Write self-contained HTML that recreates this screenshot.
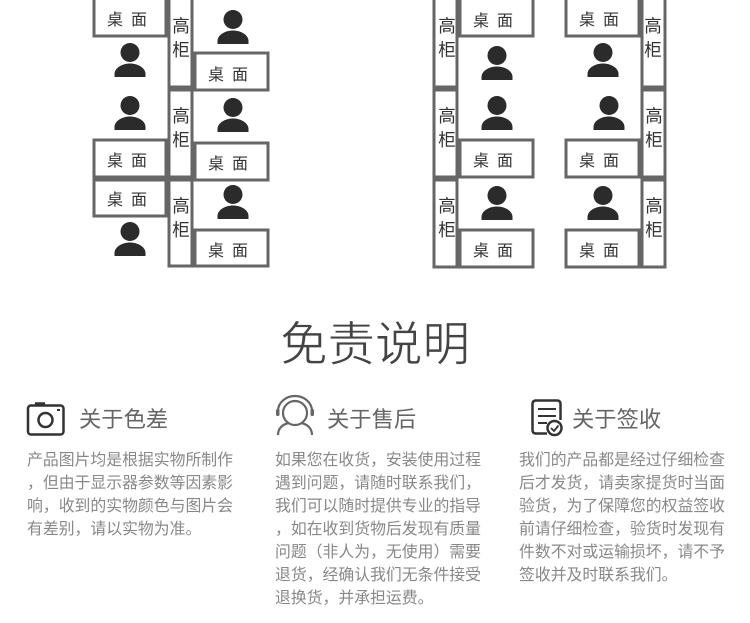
<!DOCTYPE html>
<html lang="zh">
<head>
<meta charset="utf-8">
<style>
html,body{margin:0;padding:0;background:#fff}
body{width:750px;height:623px;overflow:hidden}
svg{display:block}
text{font-family:"Liberation Sans","Noto Sans CJK SC",sans-serif}
.d{fill:#fff;stroke:#666;stroke-width:3}
.dt{font-size:16px;fill:#333;letter-spacing:1.8px}
.ct{font-size:17.500px;fill:#333;text-anchor:middle}
.h{font-size:22.300px;fill:#666}
.b{font-size:15.850px;fill:#888}
.ic{fill:none;stroke:#333;stroke-width:2.500}
.ig{fill:none;stroke:#666;stroke-width:2.200}
</style>
</head>
<body>
<svg width="750" height="623" viewBox="0 0 750 623" xmlns="http://www.w3.org/2000/svg">
<defs>
<g id="p"><circle cx="0" cy="9.500" r="9.500" fill="#2b2b2b"/><path d="M-15.500 34V31C-15.500 25-8 20.500 0 20.500S15.500 25 15.500 31V34Z" fill="#2b2b2b"/></g>
</defs>

<!-- left block -->
<rect class="d" x="94" y="-5" width="72" height="41"/>
<rect class="d" x="94" y="140" width="72" height="37"/>
<rect class="d" x="94" y="180" width="72" height="36"/>
<rect class="d" x="169" y="-5" width="23" height="92"/>
<rect class="d" x="169" y="90" width="23" height="87"/>
<rect class="d" x="169" y="180" width="23" height="86"/>
<rect class="d" x="195" y="53" width="73" height="37"/>
<rect class="d" x="195" y="143" width="73" height="37"/>
<rect class="d" x="195" y="230" width="73" height="36"/>
<text class="dt" x="107" y="25">桌 面</text>
<text class="dt" x="107" y="166">桌 面</text>
<text class="dt" x="107" y="205">桌 面</text>
<text class="dt" x="208" y="80">桌 面</text>
<text class="dt" x="208" y="169">桌 面</text>
<text class="dt" x="208" y="256">桌 面</text>
<text class="ct" x="181" y="32">高</text><text class="ct" x="181" y="56">柜</text>
<text class="ct" x="181" y="122">高</text><text class="ct" x="181" y="146">柜</text>
<text class="ct" x="181" y="212">高</text><text class="ct" x="181" y="236">柜</text>
<use href="#p" x="130" y="43"/><use href="#p" x="130" y="96"/><use href="#p" x="130" y="222"/>
<use href="#p" x="233" y="10"/><use href="#p" x="233" y="98"/><use href="#p" x="233" y="185"/>

<!-- right block -->
<rect class="d" x="434" y="-5" width="23" height="92"/>
<rect class="d" x="434" y="90" width="23" height="87"/>
<rect class="d" x="434" y="180" width="23" height="87"/>
<rect class="d" x="460" y="-5" width="73" height="41"/>
<rect class="d" x="460" y="140" width="73" height="37"/>
<rect class="d" x="460" y="230" width="73" height="37"/>
<rect class="d" x="566" y="-5" width="73" height="41"/>
<rect class="d" x="566" y="140" width="73" height="37"/>
<rect class="d" x="566" y="230" width="73" height="37"/>
<rect class="d" x="642" y="-5" width="23" height="92"/>
<rect class="d" x="642" y="90" width="23" height="87"/>
<rect class="d" x="642" y="180" width="23" height="87"/>
<text class="dt" x="473" y="26">桌 面</text>
<text class="dt" x="473" y="166">桌 面</text>
<text class="dt" x="473" y="256">桌 面</text>
<text class="dt" x="579" y="25">桌 面</text>
<text class="dt" x="579" y="166">桌 面</text>
<text class="dt" x="579" y="256">桌 面</text>
<text class="ct" x="447" y="32">高</text><text class="ct" x="447" y="56">柜</text>
<text class="ct" x="447" y="122">高</text><text class="ct" x="447" y="146">柜</text>
<text class="ct" x="447" y="212">高</text><text class="ct" x="447" y="236">柜</text>
<text class="ct" x="653" y="32">高</text><text class="ct" x="653" y="56">柜</text>
<text class="ct" x="654" y="122">高</text><text class="ct" x="654" y="146">柜</text>
<text class="ct" x="654" y="212">高</text><text class="ct" x="654" y="236">柜</text>
<use href="#p" x="497" y="46"/><use href="#p" x="497" y="96"/><use href="#p" x="497" y="186"/>
<use href="#p" x="603" y="43"/><use href="#p" x="609" y="96"/><use href="#p" x="603" y="186"/>

<!-- title -->
<text x="375" y="361" font-size="47.500" fill="#444" stroke="#fff" stroke-width="0.800" text-anchor="middle">免责说明</text>

<!-- headings -->
<text class="h" x="79" y="427">关于色差</text>
<text class="h" x="327" y="427">关于售后</text>
<text class="h" x="572" y="427">关于签收</text>

<!-- camera -->
<g class="ic">
<rect x="28" y="405.500" width="35.500" height="29" rx="3"/>
<circle cx="45.500" cy="420" r="7"/>
</g>
<path d="M35 403.500H45" stroke="#333" stroke-width="2.500"/>
<rect x="57" y="409" width="3" height="2" fill="#333"/>

<!-- headset -->
<g class="ig">
<circle cx="295" cy="413" r="12"/>
<path d="M278 411A17 15 0 0 1 312 411"/>
<path d="M278 435C278 428 283 424 289 423M312 435C312 428 307 424 301 423"/>
</g>
<rect x="276" y="409" width="3.500" height="7" rx="1.500" fill="#666"/>
<rect x="310.500" y="409" width="3.500" height="7" rx="1.500" fill="#666"/>

<!-- document -->
<path class="ic" d="M547 433.500H536Q532.500 433.500 532.500 430V404Q532.500 400.500 536 400.500H557Q560.500 400.500 560.500 404V420"/>
<path d="M538 409H556M538 416H556M538 423H547" stroke="#333" stroke-width="2" fill="none"/>
<circle class="ic" cx="554.500" cy="428" r="7"/>
<path d="M551 428L554 431L558.500 425.500" stroke="#333" stroke-width="1.800" fill="none"/>

<!-- body copy -->
<text class="b" x="27" y="465">产品图片均是根据实物所制作</text>
<text class="b" x="27" y="488">，但由于显示器参数等因素影</text>
<text class="b" x="27" y="511">响，收到的实物颜色与图片会</text>
<text class="b" x="27" y="534">有差别，请以实物为准。</text>

<text class="b" x="275" y="465">如果您在收货，安装使用过程</text>
<text class="b" x="275" y="488">遇到问题，请随时联系我们，</text>
<text class="b" x="275" y="511">我们可以随时提供专业的指导</text>
<text class="b" x="275" y="534">，如在收到货物后发现有质量</text>
<text class="b" x="275" y="557">问题（非人为，无使用）需要</text>
<text class="b" x="275" y="580">退货，经确认我们无条件接受</text>
<text class="b" x="275" y="603">退换货，并承担运费。</text>

<text class="b" x="519" y="465">我们的产品都是经过仔细检查</text>
<text class="b" x="519" y="488">后才发货，请卖家提货时当面</text>
<text class="b" x="519" y="511">验货，为了保障您的权益签收</text>
<text class="b" x="519" y="534">前请仔细检查，验货时发现有</text>
<text class="b" x="519" y="557">件数不对或运输损坏，请不予</text>
<text class="b" x="519" y="580">签收并及时联系我们。</text>
</svg>
</body>
</html>
